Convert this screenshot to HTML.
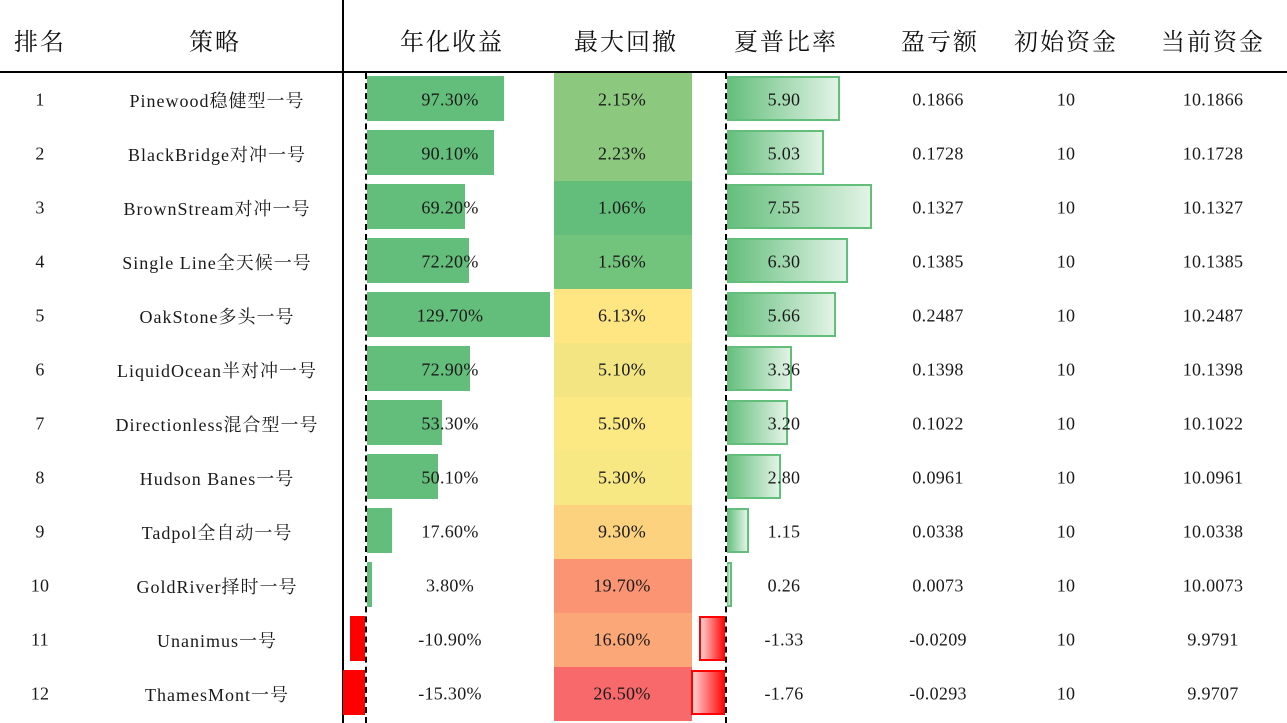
<!DOCTYPE html>
<html><head><meta charset="utf-8"><style>
body{margin:0;width:1287px;height:723px;background:#fff;position:relative;overflow:hidden;font-family:"Liberation Serif","Noto Serif CJK SC",serif;color:#1a1a1a}
.a{position:absolute}
.h{position:absolute;top:22px;font-size:24px;transform:translateX(-50%);white-space:nowrap;color:#111;letter-spacing:2px}
.t{position:absolute;font-size:18px;transform:translate(-50%,-50%);white-space:nowrap;letter-spacing:0.3px}
.n{letter-spacing:1px}
</style></head><body>
<div class="a" style="left:0;top:71px;width:1287px;height:2px;background:#000"></div>
<div class="a" style="left:342px;top:0;width:2px;height:723px;background:#000"></div>
<div class="a" style="left:365px;top:73px;height:650px;border-left:2px dashed #000"></div>
<div class="a" style="left:725px;top:73px;height:650px;border-left:2px dashed #000"></div>
<div class="h" style="left:40px">排名</div>
<div class="h" style="left:215px">策略</div>
<div class="h" style="left:452px">年化收益</div>
<div class="h" style="left:626px">最大回撤</div>
<div class="h" style="left:786px">夏普比率</div>
<div class="h" style="left:940px">盈亏额</div>
<div class="h" style="left:1066px">初始资金</div>
<div class="h" style="left:1213px">当前资金</div>
<div id="rows"></div>
<script>
var d=[["Pinewood稳健型一号",97.3,"2.15%","#8CC97F",5.90,"0.1866","10.1866"],
["BlackBridge对冲一号",90.1,"2.23%","#8CC97F",5.03,"0.1728","10.1728"],
["BrownStream对冲一号",69.2,"1.06%","#63BE7B",7.55,"0.1327","10.1327"],
["Single Line全天候一号",72.2,"1.56%","#72C37C",6.30,"0.1385","10.1385"],
["OakStone多头一号",129.7,"6.13%","#FFE683",5.66,"0.2487","10.2487"],
["LiquidOcean半对冲一号",72.9,"5.10%","#F2E582",3.36,"0.1398","10.1398"],
["Directionless混合型一号",53.3,"5.50%","#FCE983",3.20,"0.1022","10.1022"],
["Hudson Banes一号",50.1,"5.30%","#F8E883",2.80,"0.0961","10.0961"],
["Tadpol全自动一号",17.6,"9.30%","#FDD27F",1.15,"0.0338","10.0338"],
["GoldRiver择时一号",3.8,"19.70%","#FA9473",0.26,"0.0073","10.0073"],
["Unanimus一号",-10.9,"16.60%","#FBA777",-1.33,"-0.0209","9.9791"],
["ThamesMont一号",-15.3,"26.50%","#F8696B",-1.76,"-0.0293","9.9707"]];
var h="";
d.forEach(function(r,i){var top=73+i*54,c=top+27;
h+='<div class="a" style="left:554px;top:'+top+'px;width:138px;height:54px;background:'+r[3]+'"></div>';
var w=Math.abs(r[1])*1.41;
if(r[1]>=0)h+='<div class="a" style="left:367px;top:'+(top+3)+'px;width:'+w+'px;height:45px;background:#63BE7B"></div>';
else h+='<div class="a" style="left:'+(365-w)+'px;top:'+(top+3)+'px;width:'+w+'px;height:45px;background:#FF0000"></div>';
var s=Math.abs(r[4])*19.2;
if(r[4]>=0)h+='<div class="a" style="left:727px;top:'+(top+3)+'px;width:'+(s-2)+'px;height:41px;border:2px solid #63BE7B;border-left:none;background:linear-gradient(to right,#63BE7B,#E2F3E6)"></div>';
else h+='<div class="a" style="left:'+(725-s)+'px;top:'+(top+3)+'px;width:'+(s-2)+'px;height:41px;border:2px solid #FF0000;border-right:none;background:linear-gradient(to right,#FFD0D0,#FF0000)"></div>';
h+='<div class="t" style="left:40px;top:'+c+'px">'+(i+1)+'</div>';
h+='<div class="t n" style="left:217px;top:'+c+'px">'+r[0]+'</div>';
h+='<div class="t" style="left:450px;top:'+c+'px">'+r[1].toFixed(2)+'%</div>';
h+='<div class="t" style="left:622px;top:'+c+'px">'+r[2]+'</div>';
h+='<div class="t" style="left:784px;top:'+c+'px">'+r[4].toFixed(2)+'</div>';
h+='<div class="t" style="left:938px;top:'+c+'px">'+r[5]+'</div>';
h+='<div class="t" style="left:1066px;top:'+c+'px">10</div>';
h+='<div class="t" style="left:1213px;top:'+c+'px">'+r[6]+'</div>';
});
document.getElementById("rows").innerHTML=h;
</script>
</body></html>
